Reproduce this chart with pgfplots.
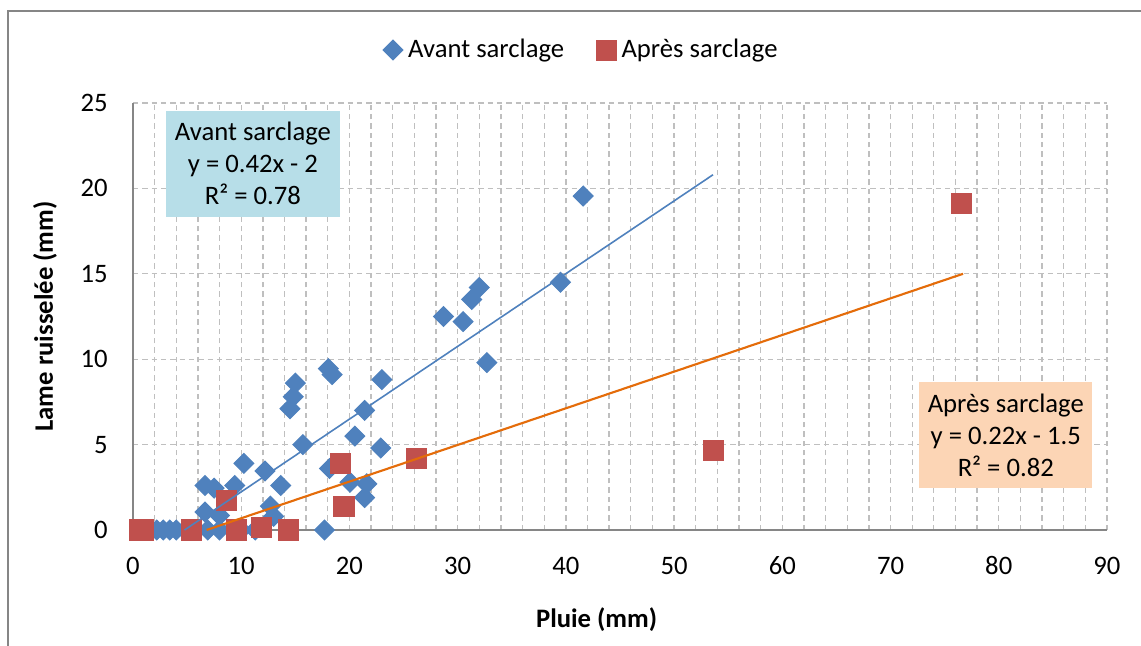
\documentclass[border=0pt]{standalone}
\usepackage{fontspec}
\setmainfont{Carlito}
\usepackage{pgfplots}
\pgfplotsset{compat=1.18}
\definecolor{avant}{HTML}{4F81BD}
\definecolor{apres}{HTML}{C0504D}
\definecolor{tendorange}{HTML}{E46C0A}
\definecolor{boxblue}{HTML}{B7DEE8}
\definecolor{boxorange}{HTML}{FCD5B5}
\definecolor{axisgray}{HTML}{868686}
\definecolor{gridgray}{HTML}{BFBFBF}

\begin{document}
\begin{tikzpicture}
\useasboundingbox (-49.875pt,-43.5pt) rectangle (378pt,198.75pt);
\draw[axisgray, line width=0.75pt] (-46.9pt,-43.5pt) -- (-46.9pt,194.6pt) -- (378pt,194.6pt);
\begin{axis}[
    at={(0,0)}, anchor=south west,
    scale only axis,
    width=365.25pt, height=160.125pt,
    xmin=0, xmax=90,
    ymin=0, ymax=25,
    clip=false,
    clip marker paths=true,
    xtick={0,10,...,90},
    ytick={0,5,...,25},
    minor x tick num=4,
    xmajorgrids=true, xminorgrids=true, ymajorgrids=true,
    major grid style={gridgray, dash pattern=on 2pt off 1.5pt, line width=0.5pt},
    minor grid style={gridgray, dash pattern=on 2pt off 1.5pt, line width=0.5pt},
    axis x line*=bottom, axis y line*=left,
    axis line style={axisgray, line width=0.75pt},
    major tick length=0pt, minor tick length=0pt,
    tick label style={font=\fontsize{10}{12}\selectfont},
    xticklabel style={yshift=-6.5pt},
    yticklabel style={xshift=-6pt},
    /pgf/number format/assume math mode=true,
    xlabel={\textbf{Pluie (mm)}},
    ylabel={\textbf{Lame ruisselée (mm)}},
    xlabel style={at={(axis description cs:0.476,-0.211)}, anchor=center, font=\fontsize{10}{12}\selectfont},
    ylabel style={at={(axis description cs:-0.0903,0.5)}, anchor=center, rotate=0, font=\fontsize{10}{12}\selectfont},
    legend columns=2,
    legend style={at={(axis description cs:0.462,1.124)}, anchor=center, draw=none,
        font=\fontsize{10}{12}\selectfont,
        /tikz/every even column/.append style={column sep=10pt}},
]

\addplot[only marks, mark=square*, mark size=2.62pt, color=avant,
         mark options={rotate=45}]
    coordinates {
    (41.6,19.55) (39.5,14.5) (32.0,14.2) (31.3,13.5) (28.7,12.5) (30.5,12.2)
    (32.7,9.8) (23.0,8.8) (18.05,9.45) (18.4,9.1) (15.0,8.6) (14.8,7.8)
    (14.5,7.1) (21.4,7.0) (20.5,5.5) (15.7,5.0) (22.9,4.8) (10.25,3.9)
    (18.15,3.6) (12.2,3.45) (6.65,2.6) (7.5,2.45) (9.4,2.6) (13.65,2.6)
    (20.05,2.8) (21.6,2.7) (21.4,1.9) (12.7,1.4) (13.0,0.8) (6.65,1.05)
    (8.0,0.85) (2.2,0) (2.8,0) (3.4,0) (4.0,0) (4.8,0) (6.9,0) (8.0,0)
    (10.0,0) (11.3,0) (17.7,0)
    };
\addlegendentry{Avant sarclage}

\addplot[only marks, mark=square*, mark size=3.75pt, color=apres]
    coordinates {
    (76.6,19.1) (53.6,4.67) (26.2,4.2) (19.2,3.9) (19.5,1.35) (8.6,1.7)
    (11.85,0.13) (14.35,0) (9.6,0) (5.4,0) (0.6,0) (1.0,0)
    };
\addlegendentry{Après sarclage}

% courbes de tendance
\addplot[avant, line width=0.6pt, forget plot] coordinates {(4.76,0) (53.6,20.8)};
\addplot[tendorange, line width=0.8pt, forget plot] coordinates {(6.8,0) (76.7,15.0)};

\node[fill=boxblue, minimum width=65.25pt, minimum height=39.6pt, align=center,
      font=\fontsize{10}{12}\selectfont, inner sep=0pt]
    at (axis cs:11.08,21.44) {Avant sarclage\\y = 0.42x - 2\\R² = 0.78};
\node[fill=boxorange, minimum width=65pt, minimum height=39.5pt, align=center,
      font=\fontsize{10}{12}\selectfont, inner sep=0pt]
    at (axis cs:80.65,5.56) {Après sarclage\\y = 0.22x - 1.5\\R² = 0.82};

\end{axis}
\end{tikzpicture}
\end{document}
